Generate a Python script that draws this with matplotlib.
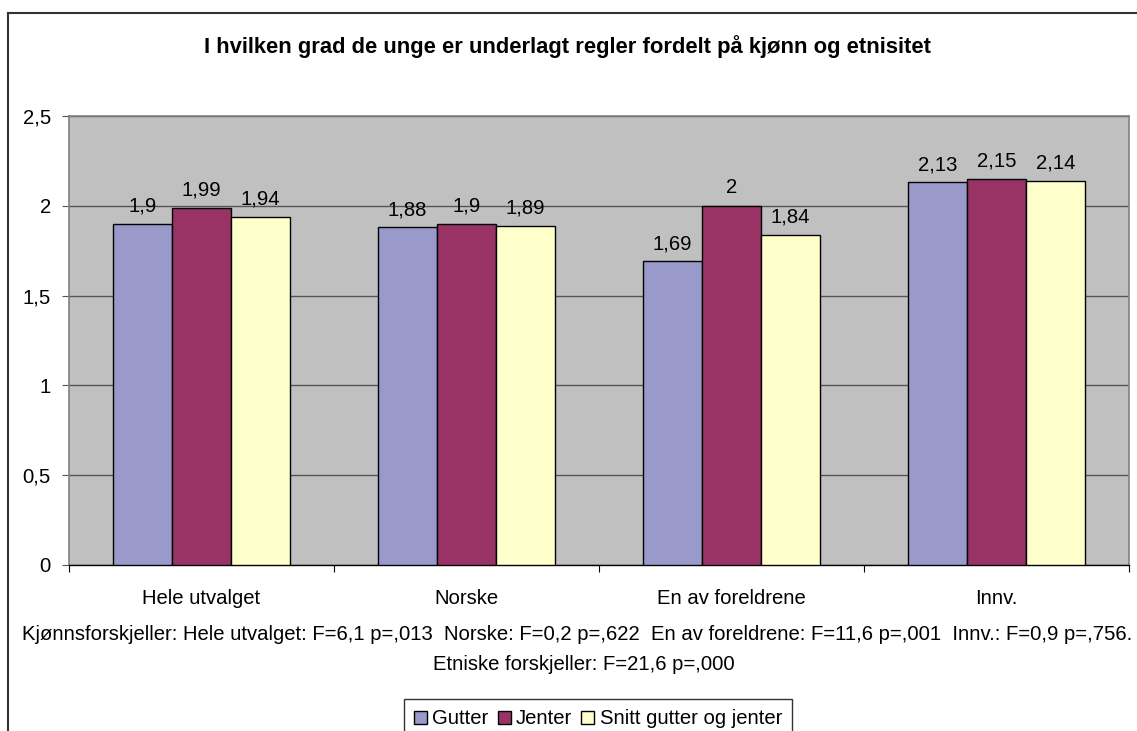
import matplotlib.pyplot as plt
import numpy as np
from matplotlib.patches import Patch

plt.rcParams["font.family"] = ["Liberation Sans", "DejaVu Sans"]

categories = ["Hele utvalget", "Norske", "En av foreldrene", "Innv."]
series_names = ["Gutter", "Jenter", "Snitt gutter og jenter"]
gutter = [1.9, 1.88, 1.69, 2.13]
jenter = [1.99, 1.9, 2.0, 2.15]
snitt = [1.94, 1.89, 1.84, 2.14]
yticks = [0, 0.5, 1, 1.5, 2, 2.5]

title = "I hvilken grad de unge er underlagt regler fordelt på kjønn og etnisitet"
note1 = ("Kjønnsforskjeller: Hele utvalget: F=6,1 p=,013  Norske: F=0,2 p=,622  "
         "En av foreldrene: F=11,6 p=,001  Innv.: F=0,9 p=,756.")
note2 = "Etniske forskjeller: F=21,6 p=,000"

colors = ["#9999CC", "#993366", "#FFFFCC"]
FS = 14.6

W, H = 1137, 731
fig = plt.figure(figsize=(W / 100, H / 100), dpi=100)

left, right, top, bottom = 69, 1129, 116, 565
ax = fig.add_axes([left / W, 1 - bottom / H, (right - left) / W, (bottom - top) / H])
ax.set_facecolor("#C0C0C0")

x = np.arange(len(categories))
bw = 0.222
for i, (vals, col) in enumerate(zip([gutter, jenter, snitt], colors)):
    pos = x + (i - 1) * bw
    bars = ax.bar(pos, vals, width=bw, color=col, edgecolor="black", linewidth=1.0, zorder=3)
    for b, v in zip(bars, vals):
        lab = f"{v:g}".replace(".", ",")
        ax.annotate(lab, (b.get_x() + b.get_width() / 2, v), xytext=(0, 6),
                    textcoords="offset points", ha="center", va="bottom", fontsize=FS)

ax.set_xlim(-0.5, len(categories) - 0.5)
ax.set_ylim(0, 2.5)
ax.set_yticks(yticks)
ax.set_yticklabels([f"{t:g}".replace(".", ",") for t in yticks], fontsize=FS)
ax.yaxis.grid(True, color="#555555", linewidth=1.0, zorder=1)
ax.set_axisbelow(True)

# category boundaries as ticks, labels at centers
ax.set_xticks(np.arange(-0.5, len(categories)), minor=False)
ax.set_xticklabels([])
ax.set_xticks(x, minor=True)
ax.set_xticklabels(categories, minor=True, fontsize=FS)
ax.tick_params(axis="x", which="minor", length=0, pad=17)
ax.tick_params(axis="x", which="major", length=5, color="black", direction="out")
ax.tick_params(axis="y", length=5, direction="out", pad=8, color="#555555")

for side in ["top", "right", "left"]:
    ax.spines[side].set_color("#808080")
    ax.spines[side].set_linewidth(1.2)
ax.spines["bottom"].set_color("black")
ax.spines["bottom"].set_linewidth(1.0)

fig.text(568 / W, 1 - 47 / H, title, ha="center", va="center", fontsize=15.8, fontweight="bold")
fig.text(577 / W, 1 - 635 / H, note1, ha="center", va="center", fontsize=FS)
fig.text(584 / W, 1 - 664 / H, note2, ha="center", va="center", fontsize=FS)

handles = [Patch(facecolor=c, edgecolor="black", linewidth=1.0) for c in colors]
leg = fig.legend(handles, series_names, loc="center", bbox_to_anchor=(598 / W, 1 - 719 / H),
                 ncol=3, fontsize=FS, frameon=True, fancybox=False, edgecolor="black",
                 handlelength=0.65, handleheight=0.65, handletextpad=0.25, columnspacing=0.45,
                 borderpad=0.5, borderaxespad=0)
leg.get_frame().set_linewidth(1.0)

# outer chart border (cropped on right and bottom)
fig.add_artist(plt.Line2D([8 / W, 8 / W], [1 - 13 / H, 0], transform=fig.transFigure,
                          color="#333333", linewidth=1.5))
fig.add_artist(plt.Line2D([8 / W, 1], [1 - 13 / H, 1 - 13 / H], transform=fig.transFigure,
                          color="#333333", linewidth=1.5))

fig.savefig("out.png", dpi=100)
